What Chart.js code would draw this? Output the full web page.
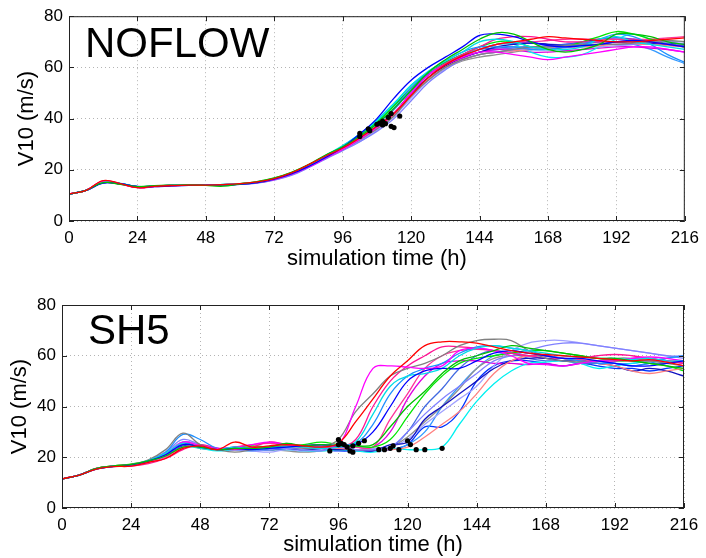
<!DOCTYPE html>
<html>
<head>
<meta charset="utf-8">
<script src="https://cdn.jsdelivr.net/npm/chart.js@4.4.0/dist/chart.umd.min.js"></script>
<style>
  body { margin: 0; background: #fff; width: 706px; height: 558px; position: relative; overflow: hidden; }
  .panel { position: absolute; left: 0; }
  .tag { position: absolute; font-family: "Liberation Sans", Arial, sans-serif; font-size: 42px; line-height: 42px; color: #000; }
</style>
</head>
<body>
<div class="panel" style="top:0"><canvas id="noflow" width="706" height="280"></canvas></div>
<div class="panel" style="top:280px"><canvas id="sh5" width="706" height="278"></canvas></div>
<div class="tag" style="left:85px; top:22px">NOFLOW</div>
<div class="tag" style="left:88px; top:309px">SH5</div>
<script>
// simulation time (h), every 6 h
const times = [0, 6, 12, 18, 24, 30, 36, 42, 48, 54, 60, 66, 72, 78, 84, 90, 96, 102, 108, 114, 120,
    126, 132, 138, 144, 150, 156, 162, 168, 174, 180, 186, 192, 198, 204, 210, 216]
const xTicks = [0, 24, 48, 72, 96, 120, 144, 168, 192, 216]
const yTicks = [0, 20, 40, 60, 80]

const memberColors = ['#ff0000', '#00c000', '#0000ff', '#00dde6', '#ff00ff', '#808080', '#1e90ff', '#ff1493',
    '#8080ff', '#ff8080', '#1010c0', '#00e600', '#ff3399', '#a0a0ff', '#00f0f0', '#e000e0', '#4169e1',
    '#909090', '#3399ff', '#0033ff']

// V10 (m/s) of the NOFLOW ensemble members
const noflow = [
    [10.5,12,15.8,14.6,13,13.5,13.8,14,14,14.2,14.6,15.3,16.6,18.8,22,25.4,28.5,32.5,37,42,49,56,61,64.5,67,69,70,71,72,71.5,71,70.5,70,70,70.5,71,71.5],
    [10.5,12,15,14.3,13.4,13.8,14,14.1,13.9,13.6,14.5,15.4,16.8,19,22,25.8,29,33,38,44,51,58,63,67,71,73.5,73,70,67,66,67,69,73,73,72,70,69],
    [10.5,12,14.8,14.6,13.5,13.4,13.7,13.9,14,14.1,14.3,15,16.4,18.4,21.3,24.8,28.8,34,40,48,55,60,64,68,72.5,73,72,70,68.5,68,68.5,69,70,70.5,70,69,68],
    [10.5,12,15.1,14.7,13.3,13.6,13.9,14.1,14,14.3,14.6,15.1,16.5,18.6,21.7,25.6,29.5,34,39.5,46,53,58.5,62.5,66,70,71,70,68,67,67,68,71,72,70,69,68,67],
    [10.5,12,15.5,14.4,13.1,13.5,14,14.2,14.1,14.2,14.5,15,16.2,18.2,21,24.5,28,32,36.5,42,50,57,61,64,66,66,65,64,63,64,65,66,67,68,68,67,66],
    [10.5,12,15,14.5,13.3,13.7,13.9,14,14.1,14.2,14.4,15,16.3,18.3,21.2,24.7,28,32,36,41,49,55,60,63,65,66,67,68,68,68.5,69,69,69,69.5,70,70.5,70],
    [10.5,12,15.1,14.6,13.4,13.6,13.8,14,14,14.1,14.4,15.1,16.4,18.4,21.4,25,28.6,33,38,44,52,58,62.5,66,68,68,68,67,67,68,69,71,73,72,69,65,62],
    [10.5,12,15.6,14.6,13,13.4,13.8,14,14,14.2,14.5,15.1,16.6,18.7,21.8,25.3,28.5,32.5,36.8,42,50,57,61.5,65,68,71,72,72,71,70,70,70,70,70.5,70,69,68],
    [10.5,12,15,14.4,13.3,13.5,13.8,13.9,14,14.1,14.3,14.8,16,17.8,20.8,24.2,27.5,31,35,40,47,54,59,63,65,66,67,67.5,68,68,68.5,69,69,69,70,70,69],
    [10.5,12,15.3,14.5,13.2,13.6,13.9,14,14,14.2,14.5,15.2,16.5,18.5,21.5,25,28.3,32,36,41.5,49,55.5,60,63,65,66,66.5,67,67.5,68,68,68.5,69,69,69,68.5,68],
    [10.5,12,15,14.5,13.4,13.7,13.9,14.1,14,14.1,14.4,15,16.3,18.3,21.2,24.8,28,32.5,37,42,50,56,60.5,64,66,68,69,69.5,69,68.5,68.5,69,70,70,69.5,69,68],
    [10.5,12,15.2,14.6,13.3,13.6,14,14.1,14,13.8,14.6,15.3,16.7,18.9,21.9,25.6,29,33.5,38.5,45,52,58,62,65,68,70,70,68,67,68,70,72,74,73,71,69,68],
    [10.5,12,15.4,14.5,13.1,13.5,13.8,14,14,14.2,14.5,15.1,16.5,18.6,21.6,25.2,28.4,32.5,37,42,50,56,61,64,67,69,70,70,70.5,71,71,71,71,71,71,71.5,72],
    [10.5,12,15,14.4,13.3,13.6,13.8,14,14,14.1,14.3,14.9,16.1,18,21,24.4,27.6,31,35.5,41,48,55,59.5,63,65,66,66.5,67,67,67.5,68,68,68.5,69,69.5,70,70],
    [10.5,12,15.2,14.7,13.4,13.7,13.9,14.1,14,14.3,14.6,15.2,16.6,18.7,21.8,25.6,29.2,34,39,45.5,53,58,62,65,67,69,69,66,64,64,65,68,71,73,71,69,68],
    [10.5,12,15.6,14.5,13.1,13.5,13.8,14,14,14.2,14.5,15,16.3,18.3,21.2,24.7,28.2,32,36.5,42,49.5,56,60.5,63.5,66,67,67,66,66,66.5,67,67.5,68,68,67.5,67,66],
    [10.5,12,15,14.5,13.4,13.6,13.9,14,14,14.1,14.4,15,16.4,18.4,21.3,24.9,28.5,33,38,43.5,51,57,61.5,65,67,67.5,68,68,68.5,69,69.5,70,70,70,69.5,69,68.5],
    [10.5,12,15.1,14.5,13.3,13.6,13.9,14,14,14.2,14.4,15,16.3,18.3,21.1,24.6,27.8,31.5,35.5,41,48.5,55,59.5,62.5,64,65,66,67,67.5,68,68.5,69,69,69,69,69,68.5],
    [10.5,12,15.1,14.6,13.4,13.7,13.9,14,14,14.2,14.5,15.1,16.5,18.5,21.5,25.1,28.6,33,38,44,51,57,61,64,66,67,67.5,68,68,68.5,69,70,70,69,67,64,61.5],
    [10.5,12,15,14.5,13.4,13.6,13.8,14,14,14.1,14.4,15,16.4,18.4,21.4,25,28.7,33.5,39,45,52,57.5,61,64.5,67,69,69.5,69.5,69,69,70,71,71.5,71,70,69.5,69]
]
// black markers on the NOFLOW members [time, V10]
const noflowMarks = [[102,33],[102,34.2],[105,36],[105.5,35.3],[108,37.8],[109,38.2],[110,37.5],[110,39],
    [111,38],[112,40.5],[113,42],[113,37],[114,36.5],[116,41]]

// V10 (m/s) of the SH5 ensemble members
const sh5 = [
    [11.5,13,15.3,16.3,16.5,18,19.5,23.5,24.5,23,26,24,24.5,25,24.5,24,25.5,34,43,52,58,64,65.5,65.5,65,63.5,62,61,60.5,60,59.5,59,58.5,58,58.5,57.5,56],
    [11.5,13,15.6,16.6,17.2,18.6,20.5,24,24,23,23.5,23.5,24,25.5,24.5,25,24.5,24.5,25,32,40,46,53,58,60,62,64,63,62,61,60,59,59,58,57,56,55],
    [11.5,13,15.4,16.4,17,18.5,21,25,24,23,23.5,23,23.5,24,24.5,25,24.5,25,30,40,50,54,55,55,58,61,62,61,60,59,59,58,57,56,56,57,58],
    [11.5,13,15.5,16.5,17,18.7,21.5,25.5,23.5,23,24,23,23.5,24,24,23.5,24,26,37,48,52,53,55,60,63,64,63,62,61,60,59.5,59,59,58.5,59,58,58],
    [11.5,13,15.5,16.6,17,18.4,21,26,24.5,23.5,24,25,26,25,24.5,25,25,40,55,56,55.5,55,56,62,63,62,60,57,56.5,56,57,58,58,59,59.5,59,58],
    [11.5,13,15.5,16.5,17.2,19,23,29.5,25,23,22,23,24,25.5,23.5,24,27,38,45,52,55,57,60,64,66,66.5,66,62,59,58,57.5,58,58.5,58,58,57,56],
    [11.5,13,15.4,16.4,17,18.5,22,29,27,23.5,24,23.5,24,24,24.5,24.5,25,25.5,33,45,52,55,57,61,63.5,64,63,62,60,59,58,57,57,56,57,59,60],
    [11.5,13,15.7,16.4,16.5,17.5,19.5,23,25,23.5,23,24,26,25,24.5,24,24,27,40,50,56,60,63.5,63.5,63,62,61,60,60,59,59,60,60.5,60,59,58,57],
    [11.5,13,15.4,16.3,17,18.8,22,27,25,23.5,23,22.5,23,23.5,23,22.5,24,23,23,24,30,37,43,48,53,58,60,62,64,65,65,64,63,62,61,60,59],
    [11.5,13,15.4,16.4,17,18.4,21,25,23.5,23,23.5,23,23.5,24,23.5,23.5,23.5,23,23,23,24,28,33,38,45,53,58,60,60,59,58,57,56,54,53,54,55],
    [11.5,13,15.5,16.5,17,18.5,21,25,24,23,23.5,23.5,23,23.5,23,23.5,23,23,22.5,25,26,35,40,45,50,55,58,59,59,58,58,57,56,54,55,54,52],
    [11.5,13,15.6,16.6,17.3,18.7,21.5,25,24,23,24,24.5,24,24.5,25,26,25,24.5,24,27,36,45,52,57,59,60,61,62,62,61,60,59,58,58,57,56,54],
    [11.5,13,15.6,16.5,16.8,18,20,24,24.5,23,24,25,25.5,25,24.5,24.5,24,24,24,35,45,55,60,62,62.5,62,61,60,59,59,58.5,58,58,58,58,58,58],
    [11.5,13,15.3,16.3,17,18.6,22,26,25,23.5,23,22.5,22,23,22.5,23,24,24,23.5,24,27,33,38,43,48,56,62,65,66,66,65,64,63,62,61,60,60],
    [11.5,13,15.4,16.4,17,18.4,20.5,24,23.5,22.5,23,22.5,23,23,22.5,22.5,23,22.5,22,23.5,23,23,24,33,42,49,54,57,57.5,58,57,55,56,57,58,59,60],
    [11.5,13,15.5,16.5,17,18.5,21,25,24,23,23.5,23,24,24.5,24,24,24,24,24,30,43,52,57,58,58,57,57,56.5,57,56,57,58,58,59,59,58,57],
    [11.5,13,15.5,16.5,17,18.5,21,25,24,23,23.5,23,23.5,23.5,23,23,23.5,23,23,24,30,40,47,55,60,62,61,59,58,58,57,57,57,56,57,57,58],
    [11.5,13,15.5,16.5,17,18.6,21.5,26,24,23,23.5,23,23,22.5,22,22.5,23,23,23.5,24,28,34,40,47,55,59,60,60,60,59,58,58,59,59,58,58,57],
    [11.5,13,15.5,16.5,17,18.5,21,26,24.5,23,23.5,23,23.5,23.5,23,23,23.5,23,23,23,25,30,40,48,55,60,61,60,59,59,58,58,57,57,58,59,60],
    [11.5,13,15.4,16.5,17,18.4,20.5,24.5,24,23,23,23,23,23.5,23,23,22.5,22.5,22.5,23,25,32,32,38,50,56,58,58,57,56,57,56,55,55,54,55,56]
]
// black markers on the SH5 members [time, V10]
const sh5Marks = [[93,22.5],[96,27],[96,25],[97,25.5],[98,25],[99,24],[100,22.5],[101,22],[101,24.5],
    [103,25.5],[105,26.5],[110,23],[112,23],[114,23.5],[115,24.5],[117,23],[120,26.5],[121,25],[123,23],
    [126,23],[132,23.5]]

const fontFamily = '"Liberation Sans", Arial, Helvetica, sans-serif'

// box round the plot and inward tick marks, matlab style
const framePlugin = {
    id: 'frame',
    afterDatasetsDraw(chart) {
        const {ctx, chartArea: a, scales} = chart
        ctx.save()
        ctx.strokeStyle = '#222'
        ctx.lineWidth = 1
        ctx.strokeRect(a.left + 0.5, a.top + 0.5, a.width - 1, a.height - 1)
        ctx.beginPath()
        xTicks.forEach(t => {
            const px = Math.round(scales.x.getPixelForValue(t)) + 0.5
            ctx.moveTo(px, a.bottom); ctx.lineTo(px, a.bottom - 5)
            ctx.moveTo(px, a.top); ctx.lineTo(px, a.top + 5)
        })
        yTicks.forEach(v => {
            const py = Math.round(scales.y.getPixelForValue(v)) + 0.5
            ctx.moveTo(a.left, py); ctx.lineTo(a.left + 5, py)
            ctx.moveTo(a.right, py); ctx.lineTo(a.right - 5, py)
        })
        ctx.stroke()
        ctx.restore()
    }
}

function makePanel(id, members, marks, box) {
    const canvas = document.getElementById(id)
    const datasets = [{
        type: 'scatter',
        data: marks.map(m => ({x: m[0], y: m[1]})),
        pointRadius: 2.6,
        pointBackgroundColor: '#000',
        pointBorderWidth: 0,
        showLine: false
    }]
    members.forEach((vals, i) => {
        datasets.push({
            type: 'line',
            data: times.map((t, j) => ({x: t, y: vals[j]})),
            borderColor: memberColors[i % memberColors.length],
            borderWidth: 1.3,
            pointRadius: 0,
            tension: 0.4,
            fill: false
        })
    })
    return new Chart(canvas, {
        data: {datasets},
        plugins: [framePlugin],
        options: {
            responsive: false,
            animation: false,
            events: [],
            layout: {padding: {top: box.top, right: canvas.width - box.right, left: 0, bottom: 0}},
            plugins: {legend: {display: false}, tooltip: {enabled: false}},
            scales: {
                x: {
                    type: 'linear', min: 0, max: 216,
                    afterBuildTicks: s => { s.ticks = xTicks.map(v => ({value: v})) },
                    afterFit: s => { s.height = canvas.height - box.bottom },
                    grid: {color: '#b4b4b4', lineWidth: 1, drawTicks: false},
                    border: {display: false, dash: [1, 3]},
                    ticks: {color: '#000', padding: 7, maxRotation: 0, font: {family: fontFamily, size: 17}},
                    title: {display: true, text: 'simulation time (h)', color: '#000',
                        padding: {top: 0, bottom: box.xTitlePad}, font: {family: fontFamily, size: 22}}
                },
                y: {
                    type: 'linear', min: 0, max: 80,
                    afterBuildTicks: s => { s.ticks = yTicks.map(v => ({value: v})) },
                    afterFit: s => { s.width = box.left },
                    grid: {color: '#b4b4b4', lineWidth: 1, drawTicks: false},
                    border: {display: false, dash: [1, 3]},
                    ticks: {color: '#000', padding: 6, font: {family: fontFamily, size: 17}},
                    title: {display: true, text: 'V10 (m/s)', color: '#000',
                        padding: {top: box.yTitlePad, bottom: 0}, font: {family: fontFamily, size: 22}}
                }
            }
        }
    })
}

makePanel('noflow', noflow, noflowMarks, {left: 69, top: 16, right: 691, bottom: 221, xTitlePad: 8, yTitlePad: 14})
makePanel('sh5', sh5, sh5Marks, {left: 62, top: 25, right: 684, bottom: 228, xTitlePad: 0, yTitlePad: 7})
</script>
</body>
</html>
